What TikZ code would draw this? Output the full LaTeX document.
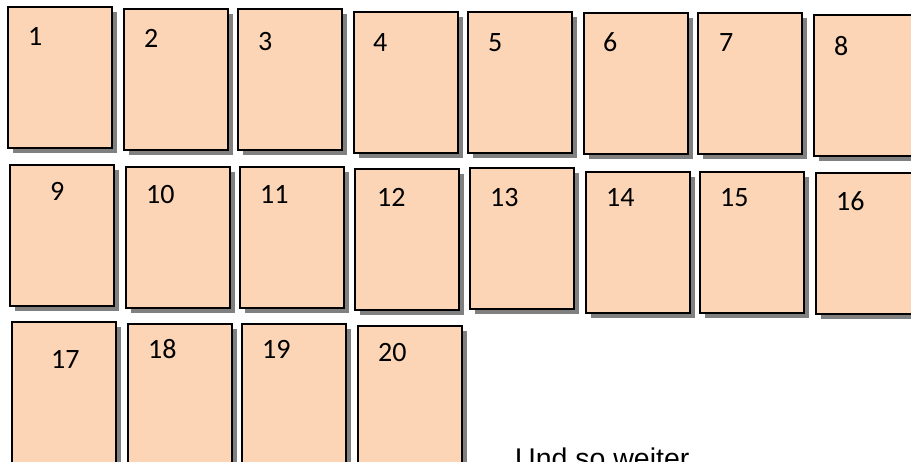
\documentclass[tikz,border=0pt]{standalone}
\usepackage{fontspec}
\setmainfont{Carlito}
\newfontfamily\arialfont{Liberation Sans}
\usepackage{tikz}
\usepackage{xcolor}
\usetikzlibrary{shadows,calc}
\definecolor{pagefill}{RGB}{251,213,181}
\definecolor{pageshadow}{RGB}{128,128,128}
\tikzset{
  page/.style={draw, line width=1.8pt, fill=pagefill, minimum width=104pt, minimum height=141pt, inner sep=0pt, anchor=north west,
    drop shadow={shadow xshift=5pt, shadow yshift=-5pt, fill=pageshadow, opacity=1}},
  pagenum/.style={anchor=base west, inner sep=0pt, font=\fontsize{28}{30}\selectfont},
  note/.style={anchor=base west, inner sep=0pt, font=\arialfont\fontsize{28.5}{30}\selectfont}
}

\begin{document}
\begin{tikzpicture}[x=1pt, y=-1pt]
    \clip (0,0) rectangle (911,461);
    \fill[white] (0,0) rectangle (911,461);
    % pages: number / x / y / label dx / label dy
    \foreach \n/\px/\py/\dx/\dy in {1/7/6/21/21, 2/123/8/21/21, 3/237/8/21/24, 4/353/11/20/22,
        5/467/11/21/22, 6/583/12/20/21, 7/697/12/22/21, 8/813/14/21/23,
        9/9/164/41/18, 10/125/166/21/19, 11/239/166/21/19, 12/354/168/23/20,
        13/469/167/21/21, 14/585/171/21/17, 15/699/171/21/17, 16/815/172/21/20,
        17/11/321/40/29, 18/127/323/21/17, 19/241/323/21/17, 20/357/325/21/18} {
      \node[page] (p\n) at (\px,\py) {};
      \node[pagenum] (n\n) at ($(p\n.north west)+(\dx,\dy+18)$) {\n};
    }
    \node[note] (more) at (515,468) {Und so weiter};
  \end{tikzpicture}
\end{document}
